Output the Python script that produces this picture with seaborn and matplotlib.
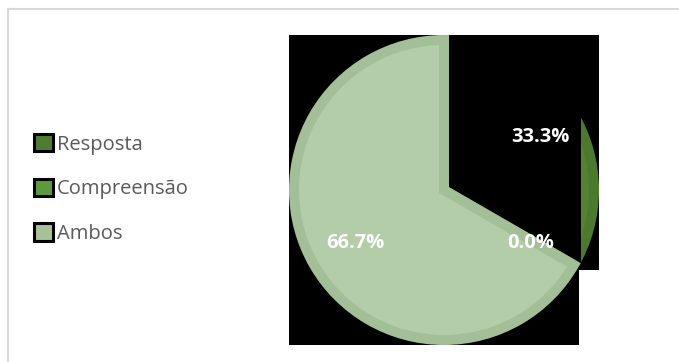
import matplotlib
matplotlib.use("Agg")
import matplotlib.pyplot as plt
from matplotlib.patches import Rectangle, Patch
import numpy as np
import seaborn as sns

# Data
categories = ["Resposta", "Compreensão", "Ambos"]
values = [1, 0, 2]
labels = ["33.3%", "0.0%", "66.7%"]
face_colors = ["#548235", "#5e9a3c", "#b3cda8"]
edge_colors = ["#4c7a2c", "#5e9a3c", "#a3bf97"]
legend_colors = ["#4f7d2f", "#5e9a3c", "#a6c298"]

sns.set_theme(style="white")
plt.rcParams["font.family"] = ["Open Sans", "DejaVu Sans"]

W, H = 679, 362
fig = plt.figure(figsize=(W / 100, H / 100), dpi=100)
ax = fig.add_axes([0, 0, 1, 1])

cx, cy, r = 444, H - 190, 150
stroke = 10  # px

wedges, _ = ax.pie(values, colors=face_colors, startangle=90, counterclock=False,
                   center=(cx, cy), radius=r, frame=True,
                   wedgeprops=dict(linewidth=stroke * 0.72, joinstyle="miter"))
for w, ec in zip(wedges, edge_colors):
    w.set_edgecolor(ec)
    w.set_zorder(3)

# dark backdrop built from the bounding boxes of the visible slices
pad = stroke / 2
for w, v in zip(wedges, values):
    if v == 0:
        continue
    pts = w.get_patch_transform().transform(w.get_path().vertices)
    x0, y0 = pts.min(axis=0)
    x1, y1 = pts.max(axis=0)
    ax.add_patch(Rectangle((x0 - pad, y0 - pad), x1 - x0 + 2 * pad, y1 - y0 + 2 * pad,
                           facecolor="black", edgecolor="none", zorder=1))

# the first slice only shows its outer rim segment
clip = Rectangle((581, 0), 200, H, transform=ax.transData)
wedges[0].set_clip_on(True)
wedges[0].set_clip_path(clip)

# percentage labels
label_pos = {"33.3%": (540, 137), "0.0%": (531, 243), "66.7%": (355, 243)}
for lab in labels:
    x, y = label_pos[lab]
    ax.text(x, H - y, lab, color="white", fontsize=14.5, fontweight="bold",
            ha="center", va="center", zorder=5)

ax.set_xlim(0, W)
ax.set_ylim(0, H)
ax.set_aspect("equal")
ax.axis("off")

# legend
handles = [Patch(facecolor=c, edgecolor="black", linewidth=2.2) for c in legend_colors]
leg = fig.legend(handles, categories, loc="center left",
                 bbox_to_anchor=(26 / W, 1 - 189 / H), frameon=False,
                 fontsize=14.5, labelcolor="#595959", handlelength=0.95,
                 handleheight=0.95, handletextpad=0.2, labelspacing=1.2,
                 borderaxespad=0)

# chart frame
fig.add_artist(plt.Line2D([8 / W, 8 / W], [0, 1 - 9 / H], color="#d9d9d9", lw=1.5,
                          transform=fig.transFigure))
fig.add_artist(plt.Line2D([8 / W, 1], [1 - 9 / H, 1 - 9 / H], color="#d9d9d9", lw=1.5,
                          transform=fig.transFigure))

fig.savefig("out.png", dpi=100, facecolor="white")
